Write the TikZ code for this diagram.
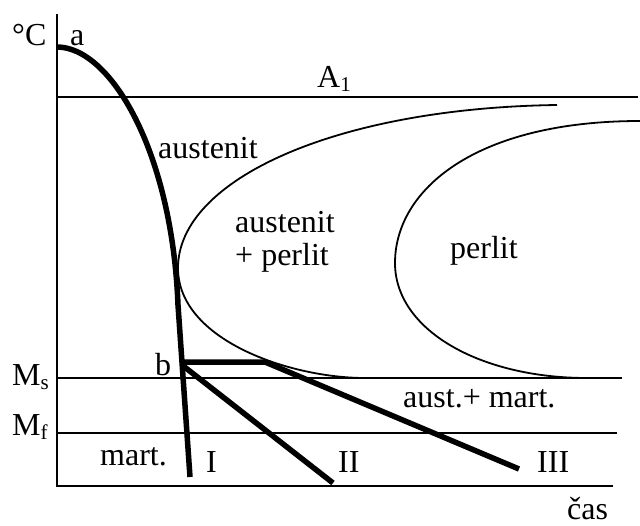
\documentclass[tikz,border=0pt]{standalone}
\usepackage{fontspec}
\setmainfont{Liberation Serif}
\newcommand\lowsub[1]{\raisebox{-0.3ex}{\fontsize{21}{21}\selectfont #1}}
\tikzset{
  axisline/.style={line width=2.6pt, line cap=rect},
  levelline/.style={line width=2.2pt},
  regionline/.style={line width=1.8pt},
  coolline/.style={line width=5.5pt, line join=round},
  lbl/.style={anchor=base west, inner sep=0pt, font=\fontsize{32}{34}\selectfont}
}
\begin{document}
\begin{tikzpicture}[x=1pt,y=-1pt]
\useasboundingbox[fill=white] (0,0) rectangle (640,525);
% axes
\coordinate (top) at (57,15);
\coordinate (origin) at (57,486);
\coordinate (xend) at (612,486);
\draw[axisline] (top) -- (origin) -- (xend);
% level lines
\coordinate (a1l) at (57,97);   \coordinate (a1r) at (638,97);
\coordinate (msl) at (57,378);  \coordinate (msr) at (622,378);
\coordinate (mfl) at (57,433);  \coordinate (mfr) at (617,433);
\draw[levelline] (a1l) -- (a1r);
\draw[levelline] (msl) -- (msr);
\draw[levelline] (mfl) -- (mfr);
% C curves
\coordinate (o1) at (557,105); \coordinate (o2) at (178,268); \coordinate (o3) at (365,378);
\draw[regionline] (o1) .. controls (335,108) and (178,180) .. (o2)
                       .. controls (178,340) and (290,378) .. (o3);
\coordinate (i1) at (640,121); \coordinate (i2) at (395,263); \coordinate (i3) at (587,378);
\draw[regionline] (i1) .. controls (475,121) and (395,190) .. (i2)
                       .. controls (395,330) and (480,378) .. (i3);
% cooling curves
\coordinate (a) at (57,47);
\coordinate (k) at (178,305);
\coordinate (endI) at (190,477);
\draw[coolline] (a) .. controls (110,47) and (172,150) .. (k) -- (endI);
\coordinate (b) at (182,365);
\coordinate (endII) at (333,483);
\draw[coolline] (b) -- (endII);
\coordinate (b3) at (180,362);
\coordinate (knee) at (265,362);
\coordinate (endIII) at (519,469);
\draw[coolline] (b3) -- (knee) -- (endIII);
% labels
\node[lbl] (lC) at (12,45) {°C};
\node[lbl] (la) at (70,45) {a};
\node[lbl] (lA1) at (317,87) {A\lowsub{1}};
\node[lbl] (laus1) at (158,158) {austenit};
\node[lbl] (laus2) at (235,232) {austenit};
\node[lbl] (lplus) at (235,265) {+ perlit};
\node[lbl] (lper) at (450,258) {perlit};
\node[lbl] (lb) at (155,375) {b};
\node[lbl] (lMs) at (12,385) {M\lowsub{s}};
\node[lbl] (lMf) at (12,435) {M\lowsub{f}};
\node[lbl] (lam) at (403,407) {aust.+ mart.};
\node[lbl] (lmart) at (100,465) {mart.};
\node[lbl] (lI) at (206,472) {I};
\node[lbl] (lII) at (338,472) {II};
\node[lbl] (lIII) at (537,472) {III};
\node[lbl] (lcas) at (567,519) {čas};
\end{tikzpicture}
\end{document}
